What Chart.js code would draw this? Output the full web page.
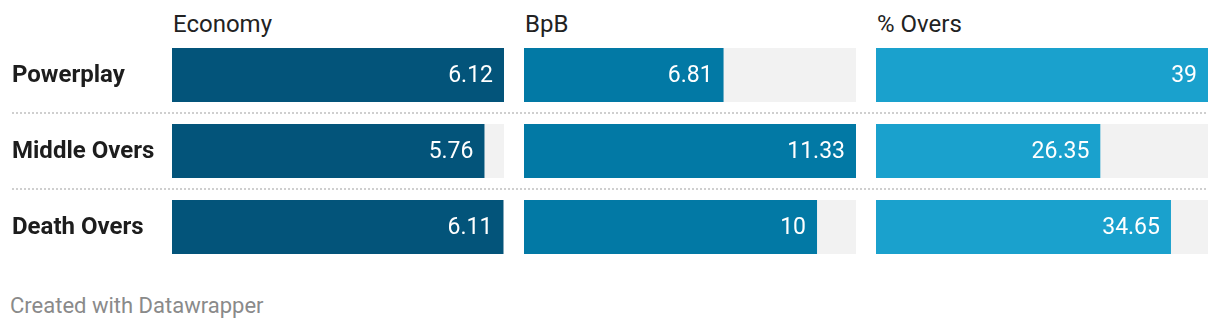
<!DOCTYPE html>
<html>
<head>
<meta charset="utf-8">
<script src="https://cdn.jsdelivr.net/npm/chart.js@4/dist/chart.umd.min.js"></script>
<style>
  html, body { margin: 0; padding: 0; background: #fff; }
  #wrap { position: relative; width: 1220px; height: 330px; overflow: hidden; font-family: Roboto, "Noto Sans", sans-serif; }
  .col { position: absolute; top: 37px; height: 228px; }
  .head { position: absolute; top: 12px; font-size: 24px; line-height: 24px; color: #222; white-space: nowrap; }
  .sep { position: absolute; left: 12px; width: 1196px; height: 2px;
         background: repeating-linear-gradient(to right, #cfcfcf 0 2px, transparent 2px 4px); }
  .foot { position: absolute; left: 10px; top: 295px; font-size: 22px; line-height: 22px; color: #8a8a8a; white-space: nowrap; }
</style>
</head>
<body>
<div id="wrap">
  <div class="sep" style="top:112px"></div>
  <div class="sep" style="top:188px"></div>
  <div class="head" style="left:173px">Economy</div>
  <div class="head" style="left:525px">BpB</div>
  <div class="head" style="left:877px">% Overs</div>
  <div class="col" style="left:0;width:504px"><canvas id="c1"></canvas></div>
  <div class="col" style="left:524px;width:332px"><canvas id="c2"></canvas></div>
  <div class="col" style="left:876px;width:332px"><canvas id="c3"></canvas></div>
  <div class="foot">Created with Datawrapper</div>
</div>
<script>
const phases = ["Powerplay", "Middle Overs", "Death Overs"];
const economy = [6.12, 5.76, 6.11];
const ballsPerBoundary = [6.81, 11.33, 10];
const oversShare = [39, 26.35, 34.65];

// Light grey track behind each bar, spanning the full column width
const trackPlugin = {
  id: "track",
  beforeDatasetsDraw(chart) {
    const { ctx, chartArea } = chart;
    const meta = chart.getDatasetMeta(0);
    ctx.save();
    ctx.fillStyle = "#f2f2f2";
    meta.data.forEach(bar => {
      const h = bar.height;
      ctx.fillRect(chartArea.left, bar.y - h / 2, chartArea.right - chartArea.left, h);
    });
    ctx.restore();
  }
};

// White value label inside the end of each bar
const valueLabelPlugin = {
  id: "valueLabels",
  afterDatasetsDraw(chart) {
    const { ctx } = chart;
    const ds = chart.data.datasets[0];
    const meta = chart.getDatasetMeta(0);
    ctx.save();
    ctx.font = "400 23px Roboto";
    ctx.fillStyle = "#ffffff";
    ctx.textAlign = "right";
    ctx.textBaseline = "middle";
    meta.data.forEach((bar, i) => {
      ctx.fillText(String(ds.data[i]), bar.x - 11, bar.y + 1);
    });
    ctx.restore();
  }
};

// Bold row names at the left edge, centred on each category
const rowNamePlugin = {
  id: "rowNames",
  afterDraw(chart, args, opts) {
    if (!opts.show) return;
    const { ctx } = chart;
    const y = chart.scales.y;
    ctx.save();
    ctx.font = "700 24px Roboto";
    ctx.fillStyle = "#1d1d1d";
    ctx.textAlign = "left";
    ctx.textBaseline = "middle";
    chart.data.labels.forEach((name, i) => {
      ctx.fillText(name, 12, y.getPixelForValue(i) + 1);
    });
    ctx.restore();
  }
};

function makeChart(id, values, color, showNames) {
  return new Chart(document.getElementById(id), {
    type: "bar",
    data: {
      labels: phases,
      datasets: [{
        data: values,
        backgroundColor: color,
        borderWidth: 0,
        barPercentage: 1,
        categoryPercentage: 54 / 76
      }]
    },
    options: {
      indexAxis: "y",
      responsive: true,
      maintainAspectRatio: false,
      animation: false,
      layout: { padding: { left: showNames ? 172 : 0, right: 0, top: 0, bottom: 0 } },
      plugins: {
        legend: { display: false },
        tooltip: { enabled: false },
        title: { display: false },
        rowNames: { show: showNames }
      },
      scales: {
        x: { display: false, min: 0, max: Math.max(...values) },
        y: { display: false }
      }
    },
    plugins: [trackPlugin, valueLabelPlugin, rowNamePlugin]
  });
}

makeChart("c1", economy, "#03547a", true);
makeChart("c2", ballsPerBoundary, "#0279a5", false);
makeChart("c3", oversShare, "#1aa1cd", false);
</script>
</body>
</html>
